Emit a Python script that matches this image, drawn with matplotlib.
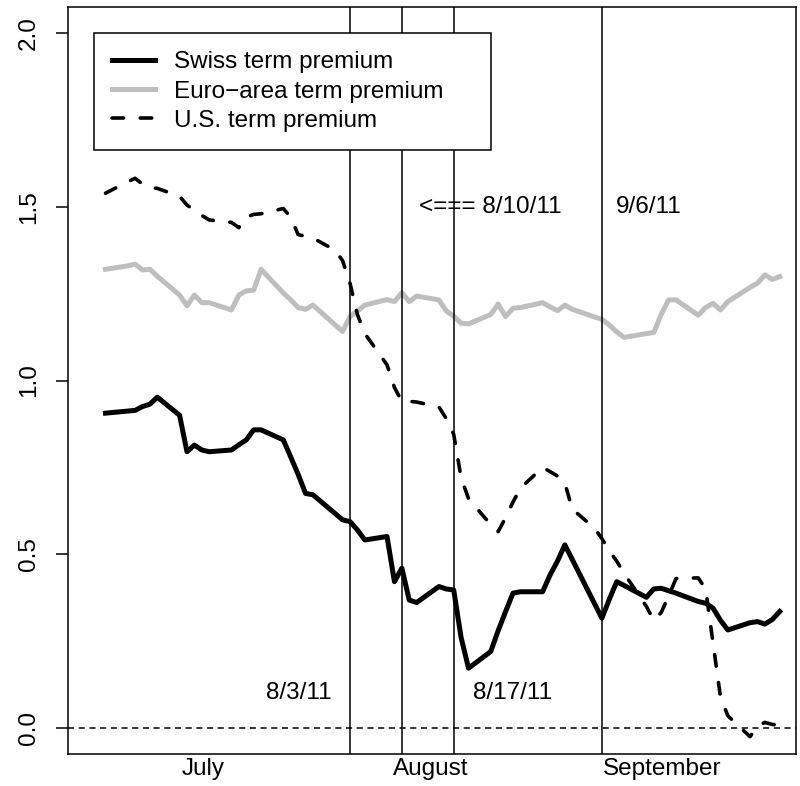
import matplotlib
matplotlib.use('Agg')
from matplotlib import pyplot as plt
import matplotlib.dates as mdates
import numpy as np
import pandas as pd

plt.rcParams['font.family'] = ['Liberation Sans', 'DejaVu Sans']

# business days, July 1 - September 30, 2011
dates = pd.bdate_range('2011-07-01', '2011-09-30')

swiss = [0.906, 0.912, 0.914, 0.925, 0.932, 0.952,
         0.900, 0.795, 0.814, 0.800, 0.795,
         0.800, 0.815, 0.829, 0.858, 0.858,
         0.829, 0.780, 0.730, 0.675, 0.671,
         0.617, 0.599, 0.594, 0.570, 0.541,
         0.551, 0.421, 0.460, 0.368, 0.361,
         0.407, 0.400, 0.397, 0.260, 0.172,
         0.220, 0.280, 0.335, 0.388, 0.392,
         0.392, 0.440, 0.480, 0.527, 0.485,
         0.358, 0.316, 0.370, 0.421, 0.410,
         0.376, 0.400, 0.402, 0.395, 0.388,
         0.364, 0.359, 0.345, 0.310, 0.282,
         0.303, 0.306, 0.299, 0.312, 0.335]

euro = [1.320, 1.330, 1.335, 1.318, 1.320, 1.300,
        1.246, 1.215, 1.246, 1.224, 1.224,
        1.203, 1.246, 1.258, 1.260, 1.320,
        1.252, 1.232, 1.210, 1.205, 1.217,
        1.160, 1.141, 1.184, 1.200, 1.217,
        1.233, 1.227, 1.253, 1.227, 1.243,
        1.232, 1.200, 1.185, 1.165, 1.163,
        1.190, 1.220, 1.184, 1.208, 1.210,
        1.224, 1.212, 1.201, 1.217, 1.205,
        1.183, 1.176, 1.160, 1.140, 1.124,
        1.135, 1.138, 1.190, 1.232, 1.232,
        1.188, 1.210, 1.222, 1.203, 1.227,
        1.268, 1.280, 1.304, 1.291, 1.299]

us = [1.539, 1.572, 1.582, 1.565, 1.555, 1.553,
      1.530, 1.505, 1.490, 1.475, 1.462,
      1.455, 1.440, 1.470, 1.478, 1.480,
      1.495, 1.470, 1.420, 1.415, 1.410,
      1.375, 1.345, 1.280, 1.190, 1.135,
      1.045, 0.980, 0.940, 0.940, 0.938,
      0.924, 0.890, 0.845, 0.720, 0.660,
      0.585, 0.565, 0.605, 0.650, 0.690,
      0.750, 0.738, 0.725, 0.705, 0.630,
      0.575, 0.545, 0.510, 0.480, 0.445,
      0.350, 0.310, 0.332, 0.379, 0.430,
      0.432, 0.400, 0.245, 0.090, 0.035,
      -0.025, 0.005, 0.016, 0.010, 0.008]

event_dates = ['2011-08-03', '2011-08-10', '2011-08-17', '2011-09-06']
month_labels = ['July', 'August', 'September']

t0 = mdates.date2num(pd.Timestamp('2011-07-01'))

fig = plt.figure(figsize=(8, 7.86), dpi=100)
ax = fig.add_axes([0.085, 0.0407, 0.91, 0.9504])

ax.plot(dates, swiss, color='black', lw=3.6, solid_joinstyle='round', label='Swiss term premium')
ax.plot(dates, euro, color='#bebebe', lw=3.6, solid_joinstyle='round', label='Euro\u2212area term premium')
ax.plot(dates, us, color='black', lw=2.6, dashes=(3.2, 4.6), dash_capstyle='round',
        label='U.S. term premium')

ax.axhline(0, color='black', lw=1.1, dashes=(4, 3))
for d in event_dates:
    ax.axvline(pd.Timestamp(d), color='black', lw=1.1)

fs = 17.5
ax.text(t0 + 26.1, 0.10, '8/3/11', ha='center', va='center', fontsize=fs)
ax.text(t0 + 54.9, 0.10, '8/17/11', ha='center', va='center', fontsize=fs)
ax.text(t0 + 52.0, 1.50, '<=== 8/10/11', ha='center', va='center', fontsize=fs)
ax.text(t0 + 73.3, 1.50, '9/6/11', ha='center', va='center', fontsize=fs)

ax.set_xlim(t0 - 5.06, t0 + 93.2)
ax.set_ylim(-0.075, 2.075)

ax.set_xticks([t0 + 13.2, t0 + 43.9, t0 + 75.1])
ax.set_xticklabels(month_labels, fontsize=fs)
ax.tick_params(axis='x', length=0, pad=3)

ax.set_yticks([0, 0.5, 1.0, 1.5, 2.0])
ax.set_yticklabels(['0.0', '0.5', '1.0', '1.5', '2.0'], fontsize=fs, rotation=90, va='center')
ax.tick_params(axis='y', length=9, width=1.1, pad=11)

for s in ax.spines.values():
    s.set_linewidth(1.1)

leg = ax.legend(loc='upper left', bbox_to_anchor=(0.0357, 0.5, 0.5453, 0.4652), mode='expand',
                borderaxespad=0, fontsize=fs, handlelength=1.76, handletextpad=0.78,
                labelspacing=0.3, borderpad=0.75, fancybox=False, framealpha=1,
                edgecolor='black')
leg.get_frame().set_linewidth(1.1)

plt.savefig('out.png', dpi=100)
plt.close()
